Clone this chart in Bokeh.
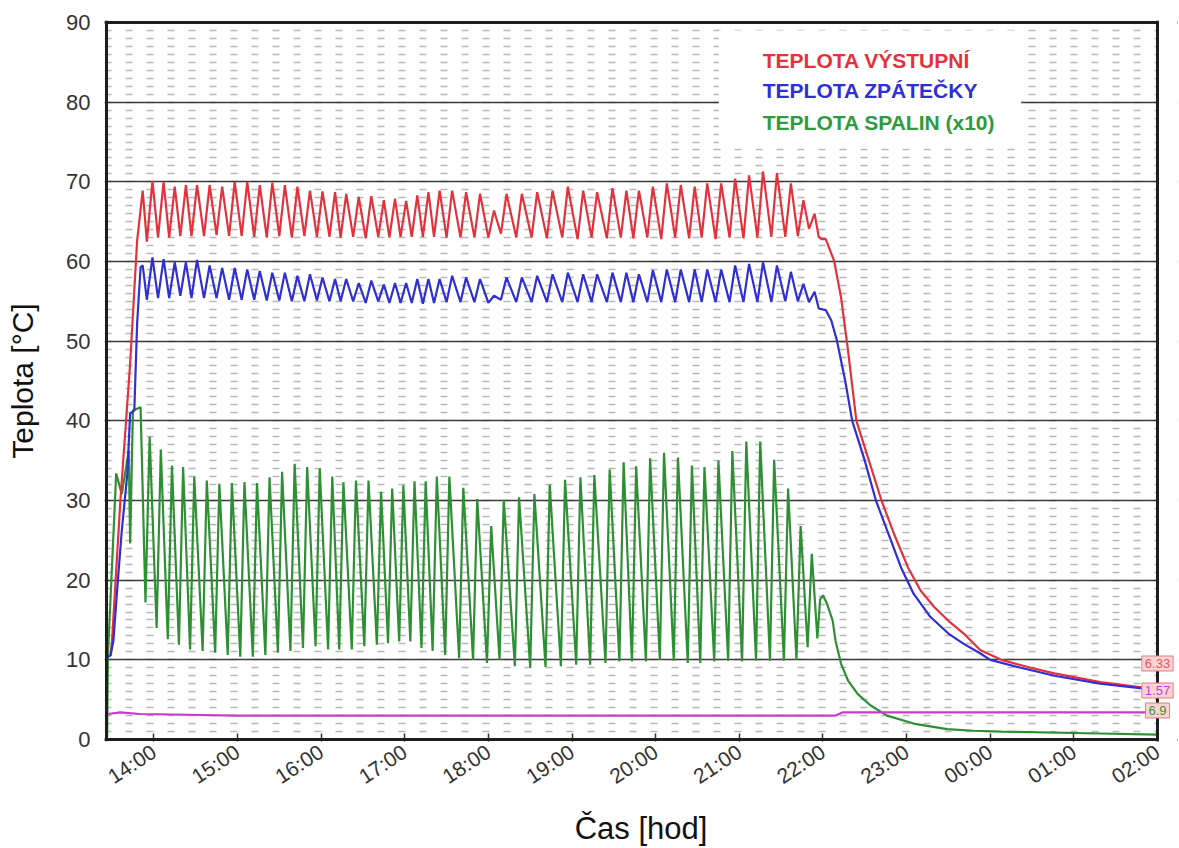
from bokeh.plotting import figure
from bokeh.models import Range1d, FixedTicker, Label, BoxAnnotation, Span
from bokeh.embed import file_html
from bokeh.resources import INLINE

# ---------------- data ----------------
# burner cycles: time of each flue-gas (green) peak
cycle_times = ["13:57", "14:05", "14:13", "14:21", "14:29", "14:38", "14:47", "14:56", "15:05", "15:14",
               "15:23", "15:32", "15:41", "15:50", "15:59", "16:08", "16:16", "16:25", "16:34", "16:43",
               "16:51", "16:59", "17:07", "17:15", "17:23", "17:32", "17:42", "17:52", "18:02", "18:11",
               "18:22", "18:33", "18:44", "18:55", "19:06", "19:16", "19:27", "19:37", "19:46", "19:56",
               "20:06", "20:16", "20:26", "20:35", "20:45", "20:55", "21:05", "21:15", "21:25", "21:35",
               "21:44", "21:52"]

# TEPLOTA SPALIN (x10)
spaliny_peak = [38.0, 36.4, 34.4, 34.2, 33.0, 32.5, 32.1, 32.2, 32.3, 32.2,
                32.9, 33.6, 34.6, 34.2, 34.0, 33.0, 32.3, 32.5, 32.5, 31.1,
                31.5, 31.9, 32.4, 32.4, 33.0, 33.0, 31.6, 30.2, 26.8, 30.1,
                30.4, 30.8, 32.0, 32.6, 32.9, 33.2, 33.9, 34.8, 34.3, 35.3,
                36.0, 35.4, 34.4, 34.2, 35.0, 36.2, 37.4, 37.4, 35.1, 31.5,
                26.8, 23.3]
spaliny_trough = [17.2, 14.0, 12.6, 11.9, 11.3, 11.1, 10.9, 10.6, 10.4, 10.4,
                  10.6, 10.9, 11.1, 11.5, 11.7, 11.3, 11.3, 11.3, 11.7, 11.9,
                  12.1, 12.3, 12.3, 11.5, 11.1, 10.6, 10.2, 10.0, 9.6, 10.0,
                  9.2, 9.0, 9.1, 9.2, 9.4, 9.4, 9.6, 9.8, 9.8, 9.8,
                  10.0, 9.9, 9.6, 9.6, 9.8, 9.9, 9.8, 9.9, 9.9, 9.9,
                  10.0, 11.6]
spaliny_head_t = ["13:26.5", "13:27", "13:33", "13:37", "13:42", "13:43", "13:45", "13:50.5"]
spaliny_head_v = [0.3, 10.3, 33.4, 30.8, 36.3, 24.6, 41.3, 41.7]
spaliny_tail_t = ["21:56", "21:58", "22:00", "22:03", "22:07", "22:09", "22:13", "22:18", "22:25",
                  "22:34", "22:46", "23:05", "23:29", "23:48", "00:08", "01:19", "02:00"]
spaliny_tail_v = [12.7, 17.6, 18.1, 17.0, 14.9, 12.4, 9.5, 7.4, 5.7, 4.3, 3.0, 2.0, 1.3, 1.1, 1.0, 0.75, 0.6]

# TEPLOTA VÝSTUPNÍ
vystup_peak = [70.1, 70.0, 69.4, 69.6, 69.6, 69.6, 69.4, 70.0, 70.0, 69.6,
               69.9, 69.6, 69.4, 68.9, 68.8, 68.7, 68.5, 68.1, 68.2, 67.7,
               67.9, 67.6, 68.3, 68.7, 68.9, 68.9, 68.7, 68.5, 66.4, 68.5,
               68.5, 68.7, 68.9, 69.4, 68.9, 68.7, 69.2, 68.9, 68.9, 69.4,
               69.8, 69.6, 69.4, 69.8, 69.8, 70.4, 70.8, 71.3, 71.1, 69.8,
               67.7, 66.0]
vystup_trough = [62.5, 63.0, 63.0, 63.2, 63.2, 63.2, 63.3, 63.2, 63.2, 63.1,
                 63.0, 63.2, 63.0, 63.2, 63.1, 63.1, 63.0, 63.1, 62.9, 63.1,
                 63.0, 63.1, 63.1, 63.1, 63.1, 63.0, 63.0, 63.0, 63.0, 63.5,
                 63.0, 63.0, 62.9, 63.0, 62.8, 63.0, 62.9, 63.0, 62.9, 63.0,
                 62.8, 63.0, 62.9, 63.0, 62.8, 63.0, 62.9, 63.0, 63.1, 63.1,
                 63.2, 64.1]
vystup_head_t = ["13:26.5", "13:29", "13:30", "13:36", "13:43", "13:48", "13:52"]
vystup_head_v = [10.3, 10.6, 12.4, 30.0, 47.2, 62.6, 68.9]
vystup_tail_t = ["21:57", "21:59", "22:02", "22:08", "22:13", "22:18", "22:24", "22:33", "22:42", "22:51",
                 "23:01", "23:10", "23:20", "23:30", "23:41", "23:53", "00:08", "00:29", "00:46", "01:19", "02:00"]
vystup_tail_v = [63.1, 62.8, 62.8, 60.1, 55.5, 48.8, 40.0, 35.0, 30.0, 25.8,
                 21.6, 18.7, 16.6, 14.9, 13.3, 11.2, 10.0, 9.0, 8.3, 7.2, 6.3]

# TEPLOTA ZPÁTEČKY
zpatecka_peak = [60.5, 60.3, 59.9, 59.9, 60.2, 59.5, 59.2, 59.2, 59.0, 58.8,
                 58.6, 58.6, 58.2, 58.4, 58.0, 57.8, 57.8, 57.3, 57.6, 57.1,
                 57.3, 57.3, 57.8, 57.8, 57.8, 58.2, 58.0, 57.8, 55.7, 58.0,
                 58.0, 58.2, 58.4, 58.6, 58.4, 58.4, 58.6, 58.6, 58.4, 58.9,
                 59.0, 59.0, 59.0, 59.0, 59.0, 59.5, 59.7, 59.9, 59.5, 58.7,
                 57.2, 56.2]
zpatecka_trough = [55.2, 55.4, 55.4, 55.7, 55.4, 55.4, 55.4, 55.2, 55.2, 55.2,
                   55.1, 55.1, 55.0, 55.0, 55.1, 55.0, 55.0, 55.0, 54.8, 55.0,
                   54.8, 54.8, 54.8, 54.7, 54.8, 54.9, 54.9, 54.9, 54.8, 55.2,
                   54.9, 54.9, 54.9, 54.9, 54.9, 54.9, 54.9, 54.9, 54.9, 54.9,
                   54.9, 54.9, 54.9, 54.9, 54.9, 54.9, 54.9, 54.9, 54.9, 55.0,
                   55.0, 54.9]
zpatecka_head_t = ["13:26.5", "13:29", "13:31", "13:34", "13:37", "13:41", "13:43", "13:46", "13:48", "13:50.5", "13:52"]
zpatecka_head_v = [10.3, 10.6, 12.4, 19.5, 26.2, 33.4, 40.9, 41.3, 52.2, 59.3, 59.5]
zpatecka_tail_t = ["21:57", "22:02", "22:06", "22:10", "22:16", "22:21", "22:30", "22:38", "22:47", "22:56",
                   "23:05", "23:17", "23:30", "23:41", "23:53", "00:00", "00:22", "00:46", "01:19", "02:00"]
zpatecka_tail_v = [54.1, 53.9, 52.6, 50.1, 45.0, 40.0, 35.0, 30.0, 25.8, 21.6,
                   18.3, 15.4, 13.3, 12.0, 10.8, 10.0, 9.0, 8.0, 7.0, 6.2]

# fourth (magenta) channel
magenta_t = ["13:27", "13:36", "13:50", "15:00", "18:00", "21:00", "22:09", "22:14", "00:00", "02:00"]
magenta_v = [3.2, 3.4, 3.2, 3.0, 3.0, 3.0, 3.0, 3.4, 3.4, 3.4]

tick_hours = list(range(14, 27))
tick_labels = ["14:00", "15:00", "16:00", "17:00", "18:00", "19:00", "20:00",
               "21:00", "22:00", "23:00", "00:00", "01:00", "02:00"]
tag_texts = ["6.33", "1.57", "6.9"]
tag_levels = [9.54, 6.15, 3.64]
legend_texts = ["TEPLOTA VÝSTUPNÍ", "TEPLOTA ZPÁTEČKY", "TEPLOTA SPALIN (x10)"]

# shape constants of one burner cycle (minutes)
GREEN_RISE = 3.0
WATER_BEFORE = 2.0
WATER_AFTER = 2.0

X_START, X_END = 13.434, 26.0
Y_MIN, Y_MAX = 0, 90


def hrs(s):
    h, m = s.split(":")
    h = int(h)
    if h < 12:
        h += 24
    return h + float(m) / 60.0


def build(head_t, head_v, peak_v, trough_v, before, after, tail_t, tail_v):
    xs = [hrs(t) for t in head_t]
    ys = list(head_v)
    for t, pv, tv in zip(cycle_times, peak_v, trough_v):
        h = hrs(t)
        xs += [h - before / 60.0, h + after / 60.0]
        ys += [tv, pv]
    xs += [hrs(t) for t in tail_t]
    ys += list(tail_v)
    return xs, ys


gx, gy = build(spaliny_head_t, spaliny_head_v, spaliny_peak, spaliny_trough, GREEN_RISE, 0.0,
               spaliny_tail_t, spaliny_tail_v)
rx, ry = build(vystup_head_t, vystup_head_v, vystup_peak, vystup_trough, WATER_BEFORE, WATER_AFTER,
               vystup_tail_t, vystup_tail_v)
bx, by = build(zpatecka_head_t, zpatecka_head_v, zpatecka_peak, zpatecka_trough, WATER_BEFORE, WATER_AFTER,
               zpatecka_tail_t, zpatecka_tail_v)
mx = [hrs(t) for t in magenta_t]

RED = "#e4323c"
BLUE = "#2f2fd4"
GREEN = "#2e8f34"
MAGENTA = "#c83cc8"
FONT = "Liberation Sans"
BORDER = "#1e1e1e"

# pixel scale of the reference: 83.6 px per hour, 7.966 px per degree
PX_H, PX_D = 83.6, 7.966
p = figure(width=1179, height=848, output_backend="svg", toolbar_location=None,
           x_range=Range1d(X_START - 2 / PX_H, X_END + 20 / PX_H),
           y_range=Range1d(Y_MIN - 2 / PX_D, Y_MAX + 2 / PX_D),
           min_border_left=104, min_border_right=2, min_border_top=20, min_border_bottom=107)
p.background_fill_color = "white"
p.border_fill_color = "white"
p.outline_line_color = None

# grids
p.xgrid.grid_line_color = None
p.ygrid.ticker = FixedTicker(ticks=list(range(0, 91, 10)), minor_ticks=list(range(0, 91)))
p.ygrid.grid_line_color = "#3a3a3a"
p.ygrid.grid_line_width = 1.7
p.ygrid.minor_grid_line_color = "#b8b8b8"
p.ygrid.minor_grid_line_width = 1.4
p.ygrid.minor_grid_line_dash = "7 14"
p.ygrid.minor_grid_line_dash_offset = 0

# axes
p.yaxis.ticker = FixedTicker(ticks=list(range(0, 91, 10)))
p.yaxis.axis_line_color = None
p.yaxis.major_tick_line_color = None
p.yaxis.minor_tick_line_color = None
p.yaxis.major_label_text_font = FONT
p.yaxis.major_label_text_font_size = "22px"
p.yaxis.major_label_text_color = "#333333"
p.yaxis.major_label_standoff = 8
p.yaxis.axis_label = "Teplota [°C]"
p.yaxis.axis_label_text_font = FONT
p.yaxis.axis_label_text_font_size = "30px"
p.yaxis.axis_label_text_font_style = "normal"
p.yaxis.axis_label_text_color = "#111111"
p.yaxis.axis_label_standoff = 24

p.xaxis.ticker = FixedTicker(ticks=tick_hours)
p.xaxis.major_label_overrides = {h: lab for h, lab in zip(tick_hours, tick_labels)}
p.xaxis.axis_line_color = None
p.xaxis.major_tick_line_color = "#333333"
p.xaxis.major_tick_line_width = 1.5
p.xaxis.major_tick_in = 8
p.xaxis.major_tick_out = 0
p.xaxis.minor_tick_line_color = None
p.xaxis.major_label_orientation = 0.58
p.xaxis.major_label_text_font = FONT
p.xaxis.major_label_text_font_size = "21px"
p.xaxis.major_label_text_color = "#333333"
p.xaxis.major_label_standoff = 8
p.xaxis.axis_label = "Čas [hod]"
p.xaxis.axis_label_text_font = FONT
p.xaxis.axis_label_text_font_size = "31px"
p.xaxis.axis_label_text_font_style = "normal"
p.xaxis.axis_label_text_color = "#111111"
p.xaxis.axis_label_standoff = 10

# series
p.line(gx, gy, line_color=GREEN, line_width=2.2)
p.line(rx, ry, line_color=RED, line_width=2.2)
p.line(bx, by, line_color=BLUE, line_width=2.2)
p.line(mx, magenta_v, line_color=MAGENTA, line_width=2.2)

# white strip right of 02:00, then the plot box 13:26 - 02:00 / 0 - 90
p.add_layout(BoxAnnotation(left=X_END, fill_color="white", fill_alpha=1.0, line_color=None,
                           level="underlay"))
for yv in (Y_MIN, Y_MAX):
    p.add_layout(Span(location=yv, dimension="width", line_color=BORDER, line_width=3, level="overlay"))
p.add_layout(BoxAnnotation(left=X_END, fill_color="white", fill_alpha=1.0, line_color=None,
                           level="overlay"))
for xv in (X_START, X_END):
    p.add_layout(Span(location=xv, dimension="height", line_color=BORDER, line_width=3, level="overlay"))

# legend box with coloured texts
p.add_layout(BoxAnnotation(left=20.755, right=24.37, bottom=74.2, top=89.0,
                           fill_color="white", fill_alpha=1.0, line_color=None))
for txt, col, yv in zip(legend_texts, [RED, BLUE, "#2f9a40"], [85.2, 81.5, 77.5]):
    p.add_layout(Label(x=21.28, y=yv, text=txt, text_color=col, text_font=FONT,
                       text_font_size="21px", text_font_style="bold", text_baseline="middle"))

# end value tags
for txt, col, yv in zip(tag_texts, ["#e05a5a", "#c040e8", "#3a943a"], tag_levels):
    p.add_layout(Label(x=X_END, y=yv, text=txt, text_color=col, text_font=FONT,
                       text_font_size="13px", text_align="center", text_baseline="middle",
                       background_fill_color="#fbd3d3", border_line_color="#e08080",
                       padding=3, level="overlay"))

open("out.html", "w").write(file_html(p, INLINE))
